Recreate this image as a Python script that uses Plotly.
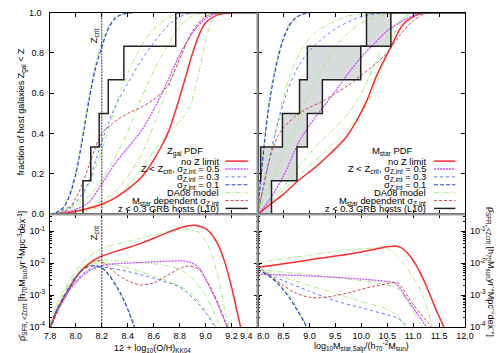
import plotly.graph_objects as go

# ---------------- data ----------------
# top left: cumulative fraction of host galaxies vs 12+log(O/H)
z_nolim = [7.8, 7.9, 8.0, 8.1, 8.2, 8.3, 8.4, 8.5, 8.55, 8.6, 8.67, 8.72, 8.8, 8.85, 8.9, 8.95, 9.0, 9.1, 9.2]
f_nolim = [0.0, 0.005, 0.015, 0.03, 0.05, 0.08, 0.125, 0.18, 0.22, 0.27, 0.35, 0.42, 0.58, 0.69, 0.8, 0.89, 0.95, 0.99, 1.0]
z_s05 = [7.8, 7.9, 8.0, 8.1, 8.2, 8.3, 8.4, 8.5, 8.6, 8.7, 8.8, 8.9, 9.0, 9.1]
f_s05 = [0.0, 0.01, 0.025, 0.06, 0.15, 0.25, 0.33, 0.41, 0.52, 0.65, 0.79, 0.9, 0.97, 1.0]
z_s03 = [7.8, 7.9, 8.0, 8.1, 8.15, 8.2, 8.25, 8.3, 8.4, 8.5, 8.6, 8.7, 8.8, 8.9]
f_s03 = [0.0, 0.02, 0.06, 0.16, 0.26, 0.36, 0.45, 0.53, 0.65, 0.76, 0.85, 0.93, 0.98, 1.0]
z_s01 = [7.8, 7.85, 7.9, 7.95, 8.0, 8.05, 8.1, 8.15, 8.2, 8.25, 8.3, 8.35, 8.45]
f_s01 = [0.0, 0.01, 0.03, 0.09, 0.2, 0.37, 0.56, 0.72, 0.83, 0.92, 0.97, 0.99, 1.0]
z_mdep = [7.8, 7.9, 7.95, 8.0, 8.05, 8.1, 8.15, 8.2, 8.3, 8.4, 8.5, 8.6, 8.7, 8.8, 8.9, 9.0, 9.1]
f_mdep = [0.0, 0.01, 0.03, 0.08, 0.15, 0.24, 0.33, 0.40, 0.46, 0.5, 0.53, 0.57, 0.63, 0.77, 0.91, 0.98, 1.0]
# DA08 model versions
z_da_nolim = [7.9, 8.0, 8.1, 8.2, 8.3, 8.4, 8.5, 8.6, 8.7, 8.8, 8.87, 8.93, 8.98, 9.03, 9.08, 9.15]
f_da_nolim = [0.0, 0.01, 0.02, 0.04, 0.08, 0.14, 0.22, 0.31, 0.39, 0.46, 0.52, 0.65, 0.8, 0.93, 0.99, 1.0]
z_da_s05 = [7.8, 7.9, 8.0, 8.1, 8.2, 8.3, 8.4, 8.5, 8.6, 8.7, 8.8, 8.9, 9.0, 9.1]
f_da_s05 = [0.0, 0.005, 0.015, 0.035, 0.065, 0.11, 0.19, 0.29, 0.44, 0.61, 0.77, 0.9, 0.98, 1.0]
z_da_mid = [7.8, 7.9, 8.0, 8.1, 8.2, 8.3, 8.4, 8.5, 8.6, 8.7, 8.8, 8.9, 9.0]
f_da_mid = [0.0, 0.015, 0.04, 0.09, 0.17, 0.28, 0.41, 0.57, 0.71, 0.83, 0.93, 0.985, 1.0]
z_da_s03 = [7.8, 7.9, 8.0, 8.1, 8.2, 8.3, 8.35, 8.4, 8.5, 8.6, 8.7, 8.8]
f_da_s03 = [0.0, 0.02, 0.05, 0.15, 0.32, 0.52, 0.62, 0.7, 0.83, 0.92, 0.97, 1.0]
z_da_s01 = [7.8, 7.85, 7.9, 7.95, 8.0, 8.05, 8.1, 8.15, 8.2, 8.25, 8.3, 8.35, 8.45]
f_da_s01 = [0.0, 0.012, 0.035, 0.1, 0.22, 0.39, 0.58, 0.74, 0.85, 0.93, 0.975, 0.993, 1.0]
# z < 0.3 GRB hosts (L10), metallicities
host_z = [8.055, 8.115, 8.18, 8.25, 8.37, 8.77]
z_crit = 8.2

# top right: cumulative fraction vs log stellar mass
m_nolim = [8.0, 8.25, 8.5, 8.8, 9.1, 9.4, 9.7, 9.9, 10.1, 10.3, 10.57, 10.8, 11.0, 11.2]
fm_nolim = [0.0, 0.05, 0.1, 0.17, 0.23, 0.3, 0.38, 0.46, 0.56, 0.69, 0.83, 0.94, 0.98, 1.0]
m_s05 = [8.0, 8.2, 8.5, 8.8, 9.0, 9.2, 9.5, 9.75, 10.0, 10.3, 10.5, 10.8, 11.0, 11.3]
fm_s05 = [0.0, 0.06, 0.19, 0.36, 0.44, 0.51, 0.61, 0.7, 0.78, 0.86, 0.91, 0.96, 0.985, 1.0]
m_s03 = [8.0, 8.1, 8.2, 8.3, 8.4, 8.5, 8.6, 8.8, 9.0, 9.2, 9.5, 10.0, 10.5]
fm_s03 = [0.0, 0.12, 0.24, 0.36, 0.46, 0.55, 0.63, 0.74, 0.81, 0.86, 0.92, 0.98, 1.0]
m_s01 = [8.0, 8.05, 8.1, 8.2, 8.3, 8.4, 8.5, 8.6, 8.7, 8.8, 8.9, 9.0]
fm_s01 = [0.0, 0.14, 0.27, 0.5, 0.66, 0.78, 0.87, 0.93, 0.965, 0.985, 0.995, 1.0]
m_mdep = [8.0, 8.1, 8.2, 8.3, 8.4, 8.5, 8.75, 9.0, 9.25, 9.5, 9.75, 10.0, 10.25, 10.5, 10.75, 11.0, 11.25]
fm_mdep = [0.0, 0.12, 0.24, 0.33, 0.39, 0.43, 0.49, 0.53, 0.56, 0.6, 0.64, 0.69, 0.74, 0.8, 0.89, 0.96, 1.0]
m_da_nolim = [8.0, 8.5, 9.0, 9.5, 10.0, 10.25, 10.5, 10.7, 10.9, 11.1]
fm_da_nolim = [0.0, 0.12, 0.24, 0.36, 0.5, 0.62, 0.8, 0.93, 0.99, 1.0]
m_da_s05 = [8.0, 8.25, 8.5, 8.75, 9.0, 9.25, 9.5, 9.75, 10.0, 10.25, 10.5, 10.75, 11.0]
fm_da_s05 = [0.0, 0.07, 0.14, 0.22, 0.3, 0.37, 0.43, 0.5, 0.6, 0.74, 0.88, 0.96, 1.0]
m_da_mid = [8.0, 8.25, 8.5, 8.75, 9.0, 9.25, 9.5, 9.75, 10.0, 10.5, 11.0]
fm_da_mid = [0.0, 0.15, 0.3, 0.45, 0.6, 0.72, 0.83, 0.9, 0.95, 0.99, 1.0]
m_da_s03 = [8.0, 8.1, 8.2, 8.3, 8.4, 8.5, 8.6, 8.7, 8.9, 9.1, 9.35, 9.7, 10.2]
fm_da_s03 = [0.0, 0.1, 0.22, 0.35, 0.47, 0.58, 0.67, 0.74, 0.84, 0.9, 0.94, 0.98, 1.0]
m_da_s01 = [8.0, 8.05, 8.1, 8.2, 8.3, 8.4, 8.5, 8.6, 8.7, 8.8, 8.9, 9.0]
fm_da_s01 = [0.0, 0.15, 0.29, 0.52, 0.68, 0.8, 0.88, 0.94, 0.97, 0.99, 0.997, 1.0]
# L10 host masses: two bounding step functions
host_m_low = [8.01, 8.06, 8.48, 8.81, 8.96, 10.10]
host_m_high = [8.27, 8.76, 8.96, 9.25, 9.99, 10.57]
host_frac = [1 / 6, 2 / 6, 3 / 6, 4 / 6, 5 / 6, 1.0]

# bottom left: log10 SFR density below Z_crit vs metallicity
zd_nolim = [7.8, 7.85, 7.9, 7.95, 8.0, 8.05, 8.1, 8.15, 8.2, 8.3, 8.4, 8.5, 8.6, 8.7, 8.8, 8.87, 8.93, 9.0, 9.05, 9.1, 9.15, 9.2, 9.25, 9.28]
ld_nolim = [-4.05, -3.5, -3.15, -2.8, -2.45, -2.2, -2.02, -1.88, -1.78, -1.64, -1.52, -1.38, -1.22, -1.05, -0.9, -0.83, -0.82, -0.92, -1.12, -1.45, -2.0, -2.75, -3.65, -4.2]
zd_s05 = [7.8, 7.85, 7.9, 7.95, 8.0, 8.05, 8.1, 8.15, 8.2, 8.3, 8.4, 8.5, 8.6, 8.7, 8.8, 8.87, 8.95, 9.0, 9.05, 9.1, 9.15, 9.18]
ld_s05 = [-4.1, -3.55, -3.2, -2.85, -2.6, -2.4, -2.25, -2.15, -2.08, -2.02, -2.0, -1.98, -1.96, -1.94, -1.93, -1.96, -2.15, -2.5, -2.9, -3.35, -3.85, -4.15]
zd_s03 = [7.8, 7.9, 8.0, 8.1, 8.15, 8.2, 8.3, 8.4, 8.5, 8.6, 8.7, 8.8, 8.9, 9.0, 9.05, 9.09]
ld_s03 = [-4.1, -3.2, -2.55, -2.2, -2.12, -2.12, -2.18, -2.26, -2.36, -2.47, -2.6, -2.75, -3.08, -3.55, -3.85, -4.1]
zd_s01 = [7.8, 7.85, 7.9, 7.95, 8.0, 8.05, 8.1, 8.15, 8.2, 8.25, 8.3, 8.35, 8.4, 8.46]
ld_s01 = [-4.1, -3.5, -3.1, -2.75, -2.45, -2.22, -2.1, -2.08, -2.15, -2.35, -2.65, -3.0, -3.45, -4.1]
zd_mdep = [7.8, 7.9, 8.0, 8.1, 8.15, 8.2, 8.25, 8.3, 8.4, 8.5, 8.6, 8.7, 8.8, 8.87, 8.95, 9.0, 9.05, 9.1, 9.15, 9.19]
ld_mdep = [-4.05, -3.15, -2.45, -2.05, -1.93, -1.95, -2.1, -2.3, -2.55, -2.68, -2.62, -2.4, -2.17, -2.09, -2.2, -2.5, -2.85, -3.3, -3.8, -4.15]
zd_da_nolim = [7.8, 7.85, 7.9, 7.95, 8.0, 8.05, 8.1, 8.15, 8.2, 8.3, 8.4, 8.5, 8.6, 8.7, 8.8, 8.87, 8.95, 9.0, 9.05, 9.1, 9.15, 9.19]
ld_da_nolim = [-3.9, -3.3, -2.9, -2.55, -2.25, -2.0, -1.8, -1.65, -1.55, -1.42, -1.32, -1.22, -1.12, -1.02, -0.95, -0.95, -1.05, -1.3, -1.75, -2.5, -3.5, -4.2]
zd_da_s05 = [7.8, 7.9, 8.0, 8.1, 8.15, 8.2, 8.3, 8.4, 8.5, 8.6, 8.7, 8.8, 8.9, 9.0, 9.05, 9.1, 9.13]
ld_da_s05 = [-3.95, -3.05, -2.35, -2.0, -1.93, -1.9, -1.92, -1.95, -1.98, -2.02, -2.08, -2.2, -2.5, -3.0, -3.4, -3.9, -4.15]
zd_da_s03 = [7.8, 7.9, 8.0, 8.1, 8.15, 8.2, 8.3, 8.4, 8.5, 8.6, 8.7, 8.8, 8.9, 9.0, 9.05, 9.1]
ld_da_s03 = [-4.0, -3.1, -2.45, -2.08, -2.0, -1.98, -2.05, -2.15, -2.27, -2.4, -2.55, -2.72, -3.0, -3.5, -3.8, -4.15]
zd_da_s01 = [7.8, 7.85, 7.9, 7.95, 8.0, 8.05, 8.1, 8.15, 8.2, 8.25, 8.3, 8.35, 8.4, 8.47]
ld_da_s01 = [-4.0, -3.4, -3.0, -2.65, -2.38, -2.15, -2.03, -2.02, -2.1, -2.3, -2.6, -2.95, -3.4, -4.1]

# bottom right: log10 SFR density below Z_crit vs stellar mass
md_nolim = [8.0, 9.0, 10.0, 10.5, 10.65, 10.75, 10.85, 10.95, 11.05, 11.15, 11.25, 11.35, 11.45, 11.55, 11.63]
lm_nolim = [-2.14, -1.9, -1.65, -1.49, -1.46, -1.5, -1.62, -1.8, -2.05, -2.35, -2.7, -3.1, -3.5, -3.85, -4.15]
md_s05 = [8.0, 9.0, 10.0, 10.5, 10.65, 10.75, 10.85, 11.0, 11.15, 11.3]
lm_s05 = [-2.35, -2.4, -2.5, -2.58, -2.63, -2.8, -3.05, -3.4, -3.75, -4.1]
md_s03 = [8.0, 8.5, 9.0, 9.5, 10.0, 10.5, 10.7, 10.8, 10.92]
lm_s03 = [-2.2, -2.55, -2.88, -3.18, -3.4, -3.62, -3.72, -3.85, -4.1]
md_s01 = [8.0, 8.1, 8.2, 8.3, 8.4, 8.5, 8.6, 8.7, 8.8, 8.9, 8.97]
lm_s01 = [-2.2, -2.28, -2.38, -2.5, -2.65, -2.84, -3.05, -3.3, -3.57, -3.85, -4.1]
md_mdep = [8.0, 8.25, 8.5, 8.75, 9.0, 9.25, 9.5, 9.75, 10.0, 10.25, 10.5, 10.67, 10.8, 10.9, 11.0, 11.15, 11.3, 11.37]
lm_mdep = [-2.1, -2.4, -2.7, -2.95, -3.07, -3.08, -3.02, -2.93, -2.82, -2.72, -2.65, -2.6, -2.8, -3.05, -3.3, -3.6, -3.9, -4.1]
md_da_nolim = [8.0, 9.0, 9.5, 10.0, 10.4, 10.5, 10.6, 10.7, 10.8, 10.9, 11.0, 11.1, 11.2, 11.3, 11.38]
lm_da_nolim = [-1.98, -1.75, -1.63, -1.55, -1.52, -1.55, -1.65, -1.8, -1.98, -2.2, -2.45, -2.72, -3.1, -3.6, -4.1]
md_da_s05 = [8.0, 8.5, 9.0, 9.5, 10.0, 10.5, 10.7, 10.85, 11.0, 11.1, 11.19]
lm_da_s05 = [-2.2, -2.28, -2.36, -2.45, -2.55, -2.68, -2.8, -3.1, -3.5, -3.8, -4.1]
md_da_s03 = [8.0, 8.5, 9.0, 9.5, 10.0, 10.5, 10.7, 10.8, 10.86]
lm_da_s03 = [-2.18, -2.45, -2.7, -2.95, -3.2, -3.45, -3.65, -3.9, -4.1]
md_da_s01 = [8.0, 8.1, 8.2, 8.3, 8.4, 8.5, 8.6, 8.7, 8.8, 8.9, 8.99]
lm_da_s01 = [-2.17, -2.25, -2.34, -2.46, -2.6, -2.78, -2.98, -3.22, -3.5, -3.8, -4.1]

# tick labels
z_ticks = [7.8, 8.0, 8.2, 8.4, 8.6, 8.8, 9.0, 9.2, 9.4]
z_labels = ['7.8', '8.0', '8.2', '8.4', '8.6', '8.8', '9.0', '9.2', '']
m_ticks = [8.0, 8.5, 9.0, 9.5, 10.0, 10.5, 11.0, 11.5, 12.0]
m_labels = ['', '8.5', '9.0', '9.5', '10.0', '10.5', '11.0', '11.5', '12.0']
frac_ticks = [0.0, 0.2, 0.4, 0.6, 0.8, 1.0]
frac_labels = ['0.0', '0.2', '0.4', '0.6', '0.8', '']
rho_ticks = [1e-4, 1e-3, 1e-2, 1e-1]
rho_labels = ['10<sup>-4</sup>', '10<sup>-3</sup>', '10<sup>-2</sup>', '10<sup>-1</sup>']

# ---------------- styling ----------------
W, H = 502, 353
FONT = 'Liberation Sans, Arial, sans-serif'
FS = 9
LFS = 9.4

RED = '#ff2b2b'
MAG = '#c84bff'
BLUE = '#5b78ff'
DBLUE = '#2a46c8'
GREEN = '#a8ec7c'
RDASH = '#cc4a4f'

styles = {
    'nolim': dict(color=RED, width=1.5, dash='solid'),
    's05': dict(color=MAG, width=1.3, dash='2px,1px'),
    's03': dict(color=BLUE, width=1.0, dash='dot'),
    's01': dict(color=DBLUE, width=1.2, dash='4px,2px'),
    'da': dict(color=GREEN, width=1.0, dash='5px,2px,1px,2px'),
    'mdep': dict(color=RDASH, width=1.0, dash='3px,2px'),
}


def px(x):
    return x / W


def py(y):
    return 1 - y / H


LEFT, MID, RIGHT = px(37), px(251), px(465)
TOP, MIDY, BOT = py(4.7), py(209.3), py(323.5)

fig = go.Figure()


def add_line(x, y, axes, style, logy=False):
    if logy:
        y = [10 ** v for v in y]
    fig.add_trace(go.Scatter(
        x=x, y=y, mode='lines', xaxis=axes[0], yaxis=axes[1], showlegend=False,
        hoverinfo='skip',
        line=dict(shape='spline', smoothing=0.9, **styles[style])))


def step_vertices(xs, levels):
    vx, vy = [], []
    prev = 0.0
    for x, lev in zip(xs, levels):
        vx += [x, x]
        vy += [prev, lev]
        prev = lev
    return vx, vy


# shaded region between host-mass steps (top right)
lx, ly = step_vertices(host_m_low, host_frac)
hx, hy = step_vertices(host_m_high, host_frac)
fig.add_trace(go.Scatter(x=lx + hx[::-1], y=ly + hy[::-1], fill='toself', mode='lines',
                         fillcolor='#d8dcdc', line=dict(width=0), xaxis='x2', yaxis='y2',
                         showlegend=False, hoverinfo='skip'))

# top left
TL = ('x', 'y')
add_line(z_da_nolim, f_da_nolim, TL, 'da')
add_line(z_da_s05, f_da_s05, TL, 'da')
add_line(z_da_mid, f_da_mid, TL, 'da')
add_line(z_da_s03, f_da_s03, TL, 'da')
add_line(z_da_s01, f_da_s01, TL, 'da')
add_line(z_nolim, f_nolim, TL, 'nolim')
add_line(z_s05, f_s05, TL, 's05')
add_line(z_s03, f_s03, TL, 's03')
add_line(z_s01, f_s01, TL, 's01')
add_line(z_mdep, f_mdep, TL, 'mdep')
fig.add_trace(go.Scatter(x=[host_z[0]] + host_z + [9.4], y=[0.0] + host_frac + [1.0],
                         mode='lines', line=dict(color='#222222', width=1.5, shape='hv'),
                         xaxis='x', yaxis='y', showlegend=False, hoverinfo='skip'))

# top right
TR = ('x2', 'y2')
add_line(m_da_nolim, fm_da_nolim, TR, 'da')
add_line(m_da_s05, fm_da_s05, TR, 'da')
add_line(m_da_mid, fm_da_mid, TR, 'da')
add_line(m_da_s03, fm_da_s03, TR, 'da')
add_line(m_da_s01, fm_da_s01, TR, 'da')
add_line(m_nolim, fm_nolim, TR, 'nolim')
add_line(m_s05, fm_s05, TR, 's05')
add_line(m_s03, fm_s03, TR, 's03')
add_line(m_s01, fm_s01, TR, 's01')
add_line(m_mdep, fm_mdep, TR, 'mdep')
for xs in (host_m_low, host_m_high):
    fig.add_trace(go.Scatter(x=[xs[0]] + xs + [12.0], y=[0.0] + host_frac + [1.0],
                             mode='lines', line=dict(color='#222222', width=1.5, shape='hv'),
                             xaxis='x2', yaxis='y2', showlegend=False, hoverinfo='skip'))

# bottom left
BL = ('x3', 'y3')
add_line(zd_da_nolim, ld_da_nolim, BL, 'da', True)
add_line(zd_da_s05, ld_da_s05, BL, 'da', True)
add_line(zd_da_s03, ld_da_s03, BL, 'da', True)
add_line(zd_da_s01, ld_da_s01, BL, 'da', True)
add_line(zd_nolim, ld_nolim, BL, 'nolim', True)
add_line(zd_s05, ld_s05, BL, 's05', True)
add_line(zd_s03, ld_s03, BL, 's03', True)
add_line(zd_s01, ld_s01, BL, 's01', True)
add_line(zd_mdep, ld_mdep, BL, 'mdep', True)

# bottom right
BR = ('x4', 'y4')
add_line(md_da_nolim, lm_da_nolim, BR, 'da', True)
add_line(md_da_s05, lm_da_s05, BR, 'da', True)
add_line(md_da_s03, lm_da_s03, BR, 'da', True)
add_line(md_da_s01, lm_da_s01, BR, 'da', True)
add_line(md_nolim, lm_nolim, BR, 'nolim', True)
add_line(md_s05, lm_s05, BR, 's05', True)
add_line(md_s03, lm_s03, BR, 's03', True)
add_line(md_s01, lm_s01, BR, 's01', True)
add_line(md_mdep, lm_mdep, BR, 'mdep', True)

# Z_crit vertical lines
for xa, ya in (('x', 'y'), ('x3', 'y3')):
    fig.add_shape(type='line', xref=xa, yref=ya + ' domain', x0=z_crit, x1=z_crit, y0=0, y1=1,
                  line=dict(color='black', width=0.8, dash='2px,1px'))

# axes
ax_common = dict(showline=True, linecolor='black', linewidth=1, mirror='ticks', ticks='inside',
                 ticklen=4, tickcolor='black', showgrid=False, zeroline=False,
                 tickfont=dict(family=FONT, size=FS, color='black'))
log_minor = dict(ticks='inside', ticklen=2, tickcolor='black', dtick='D1')
fig.update_layout(
    width=W, height=H, margin=dict(l=0, r=0, t=0, b=0),
    paper_bgcolor='white', plot_bgcolor='white', showlegend=False,
    font=dict(family=FONT, size=FS, color='black'),
    xaxis=dict(domain=[LEFT, MID], range=[7.8, 9.4], anchor='y', tickvals=z_ticks,
               showticklabels=False, **ax_common),
    yaxis=dict(domain=[MIDY, TOP], range=[0, 1], anchor='x', tickvals=frac_ticks,
               ticktext=frac_labels, ticklabelstandoff=3, **ax_common),
    xaxis2=dict(domain=[MID, RIGHT], range=[8, 12], anchor='y2', tickvals=m_ticks,
                showticklabels=False, **ax_common),
    yaxis2=dict(domain=[MIDY, TOP], range=[0, 1], anchor='x2', tickvals=frac_ticks,
                showticklabels=False, **ax_common),
    xaxis3=dict(domain=[LEFT, MID], range=[7.8, 9.4], anchor='y3', tickvals=z_ticks,
                ticktext=z_labels, **ax_common),
    yaxis3=dict(domain=[BOT, MIDY], type='log', range=[-4, -0.47], anchor='x3',
                tickvals=rho_ticks, ticktext=rho_labels, ticklabelstandoff=2,
                minor=log_minor, **ax_common),
    xaxis4=dict(domain=[MID, RIGHT], range=[8, 12], anchor='y4', tickvals=m_ticks,
                ticktext=m_labels, **ax_common),
    yaxis4=dict(domain=[BOT, MIDY], type='log', range=[-4, -0.47], anchor='x4', side='right',
                tickvals=rho_ticks, ticktext=rho_labels, ticklabelstandoff=2,
                minor=log_minor, **ax_common),
)

# grey dividing lines between the panels
fig.add_shape(type='line', xref='paper', yref='paper', x0=MID, x1=MID, y0=BOT, y1=TOP,
              line=dict(color='#9a9a9a', width=2.2), layer='above')
fig.add_shape(type='line', xref='paper', yref='paper', x0=LEFT, x1=RIGHT, y0=MIDY, y1=MIDY,
              line=dict(color='#9a9a9a', width=2.2), layer='above')


def text(x, y, s, xanchor='center', angle=0, size=FS):
    fig.add_annotation(x=px(x), y=py(y), xref='paper', yref='paper', text=s, showarrow=False,
                       xanchor=xanchor, yanchor='middle', textangle=angle,
                       font=dict(family=FONT, size=size, color='black'))


# tick labels at the shared corners (drawn side by side as in the original)
text(31, 5.5, '1.0', xanchor='right')
text(248.5, 333, '9.4', xanchor='right')
text(248.5, 333, '8.0', xanchor='left')

# legends (text right-aligned, sample line to the right)
legend_rows = [
    ('no Z limit', 'nolim'),
    ('Z &lt; Z<sub>crit</sub>, σ<sub>Z,int</sub> = 0.5', 's05'),
    ('σ<sub>Z,int</sub> = 0.3', 's03'),
    ('σ<sub>Z,int</sub> = 0.1', 's01'),
    ('DA08 model', 'da'),
    ('M<sub>star</sub> dependent σ<sub>Z,int</sub>', 'mdep'),
    ('z &lt; 0.3 GRB hosts (L10)', 'host'),
]
for head, head_x, text_right, s0, s1 in [('Z<sub>gal</sub> PDF', 156, 213, 218, 241),
                                         ('M<sub>star</sub> PDF', 367, 427, 433, 455)]:
    text(head_x, 145.5, head, xanchor='left', size=LFS)
    for i, (label, st) in enumerate(legend_rows):
        yy = 155.3 + 8 * i
        text(text_right, yy, label, xanchor='right', size=LFS)
        if st == 'host':
            ln = dict(color='#222222', width=1.5)
        else:
            ln = dict(styles[st])
        fig.add_shape(type='line', xref='paper', yref='paper', x0=px(s0), x1=px(s1),
                      y0=py(yy), y1=py(yy), line=ln)

# Z_crit labels
text(82, 28, 'Z<sub>crit</sub>', angle=-90, size=LFS)
text(82, 228, 'Z<sub>crit</sub>', angle=-90, size=LFS)

# axis titles
rho_title = ('ρ̂<sub>SFR, &lt;Zcrit</sub> [h<sub>70</sub>M<sub>sun</sub>yr<sup>-1</sup>'
             'Mpc<sup>-3</sup>dex<sup>-1</sup>]')
text(8, 105, 'fraction of host galaxies Z<sub>gal</sub> &lt; Z', angle=-90)
text(8, 272, rho_title, angle=-90)
text(492, 268, rho_title, angle=90)
text(143, 345, '12 + log<sub>10</sub>(O/H)<sub>KK04</sub>')
text(358, 343, 'log<sub>10</sub>M<sub>star,Salp</sub>/(h<sub>70</sub><sup>-2</sup>M<sub>sun</sub>)')

fig.write_html('out.html')
